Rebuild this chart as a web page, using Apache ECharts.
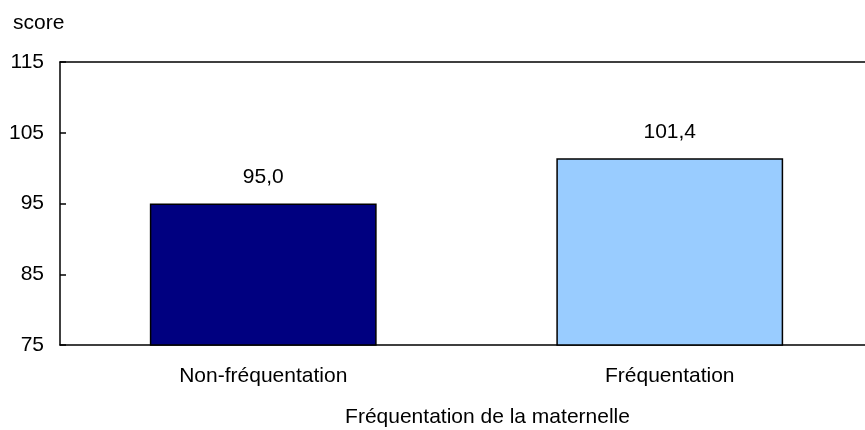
<!DOCTYPE html>
<html>
<head>
<meta charset="utf-8">
<script src="https://cdn.jsdelivr.net/npm/echarts@6/dist/echarts.min.js"></script>
<style>
  html, body { margin: 0; padding: 0; background: #fff; overflow: hidden; }
  /* the plot runs past the right edge of the page, so the canvas is a bit wider */
  #chart { width: 880px; height: 430px; }
</style>
</head>
<body>
<div id="chart"></div>
<script>
// Score moyen selon la fréquentation de la maternelle
const categories = ['Non-fréquentation', 'Fréquentation'];
const scores = [95.0, 101.4];
const yTicks = { min: 75, max: 115, step: 10 };
const unitLabel = 'score';
const axisTitle = 'Fréquentation de la maternelle';

const FONT = 'Arial, "Liberation Sans", sans-serif';
const FS = 21;
const colors = ['#000080', '#99CCFF'];

const chart = echarts.init(document.getElementById('chart'));
chart.setOption({
  animation: false,
  title: {
    text: unitLabel,
    left: 8,
    top: 8,
    textStyle: { fontFamily: FONT, fontSize: FS, fontWeight: 'normal', color: '#000' }
  },
  grid: { left: 60, top: 62, bottom: 85, width: 813, containLabel: false, outerBoundsMode: 'none' },
  xAxis: [{
    type: 'category',
    data: categories,
    position: 'bottom',
    axisLine: { lineStyle: { color: '#000', width: 1.5 } },
    axisTick: { show: false },
    axisLabel: { fontFamily: FONT, fontSize: FS, color: '#000', margin: 21 },
    name: axisTitle,
    nameLocation: 'middle',
    nameGap: 62,
    nameTextStyle: { fontFamily: FONT, fontSize: FS, color: '#000', padding: [0, 0, 0, 42] }
  }, {
    type: 'category',
    data: categories,
    position: 'top',
    axisLine: { lineStyle: { color: '#000', width: 1.5 } },
    axisTick: { show: false },
    axisLabel: { show: false }
  }],
  yAxis: {
    type: 'value',
    min: yTicks.min,
    max: yTicks.max,
    interval: yTicks.step,
    axisLine: { show: true, lineStyle: { color: '#000', width: 1.5 } },
    axisTick: { show: true, inside: true, length: 6, lineStyle: { color: '#000', width: 1.5 } },
    splitLine: { show: false },
    axisLabel: { fontFamily: FONT, fontSize: FS, color: '#000', margin: 16 }
  },
  series: [{
    type: 'bar',
    data: scores.map((v, i) => ({ value: v, itemStyle: { color: colors[i] } })),
    barWidth: '55.8%',
    itemStyle: { borderColor: '#000', borderWidth: 1.5 },
    label: {
      show: true,
      position: 'top',
      distance: 16,
      fontFamily: FONT,
      fontSize: FS,
      color: '#000',
      formatter: p => p.value.toFixed(1).replace('.', ',')
    }
  }]
});
</script>
</body>
</html>
